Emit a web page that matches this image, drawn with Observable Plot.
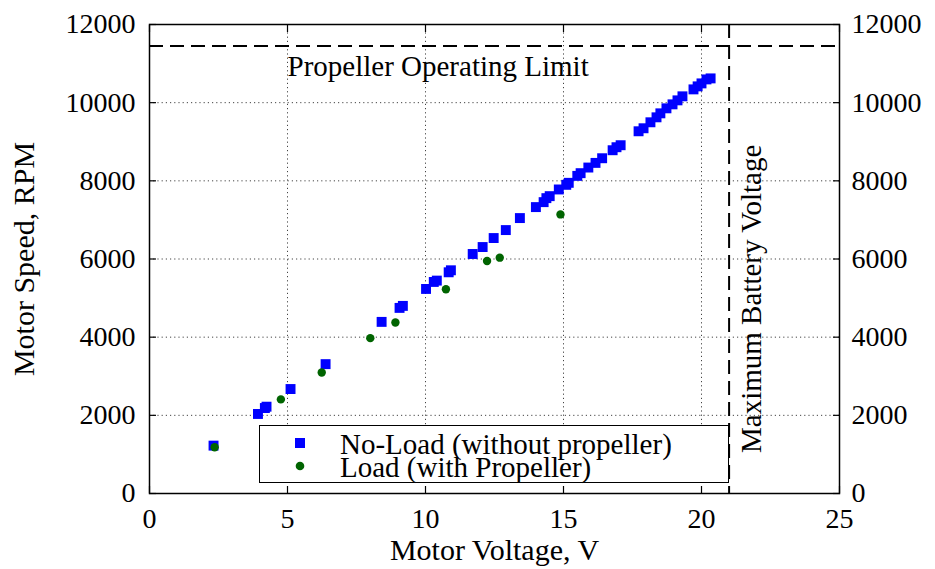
<!DOCTYPE html>
<html>
<head>
<meta charset="utf-8">
<script src="https://cdn.jsdelivr.net/npm/d3@7"></script>
<script src="https://cdn.jsdelivr.net/npm/@observablehq/plot@0.6"></script>
<style>
  body { margin: 0; background: #fff; }
  #wrap { position: relative; width: 935px; height: 569px; font-family: "Liberation Serif", "Times New Roman", serif; }
  #legend { position: absolute; left: 259px; top: 425px; width: 468px; height: 56px; border: 1.5px solid #000; background: #fff; }
  #legend .row { position: absolute; left: 0; width: 100%; height: 23px; font-size: 29px; white-space: nowrap; }
  #legend svg { position: absolute; left: 32px; top: 2px; }
  #legend span { position: absolute; left: 80px; top: 0; display: block; height: 23px; line-height: 23px; }
</style>
</head>
<body>
<div id="wrap"></div>
<script>
// No-Load (without propeller): voltage (V), speed (RPM)
const noLoadV = [2.32, 3.93, 4.18, 4.24, 5.11, 6.38, 8.41, 9.06, 9.18, 10.02, 10.3, 10.41, 10.84, 10.92, 11.71, 12.07, 12.47, 12.91, 13.42, 14.0, 14.28, 14.38, 14.5, 14.83, 15.1, 15.19, 15.5, 15.62, 15.9, 16.16, 16.4, 16.78, 16.92, 17.07, 17.72, 17.9, 18.15, 18.37, 18.51, 18.73, 18.95, 19.13, 19.31, 19.71, 19.86, 20.0, 20.18, 20.33];
const noLoadRPM = [1225, 2035, 2187, 2221, 2673, 3310, 4391, 4749, 4800, 5234, 5413, 5447, 5660, 5711, 6128, 6306, 6536, 6740, 7047, 7328, 7455, 7557, 7608, 7779, 7898, 7949, 8127, 8196, 8340, 8459, 8578, 8783, 8860, 8911, 9268, 9345, 9498, 9625, 9727, 9855, 9957, 10059, 10162, 10340, 10417, 10493, 10595, 10621];
// Load (with propeller)
const loadV = [2.36, 4.76, 6.24, 8.0, 8.91, 10.74, 12.23, 12.69, 14.89];
const loadRPM = [1183, 2408, 3097, 3975, 4374, 5226, 5949, 6034, 7141];
// Limits
const rpmLimit = [11450];
const voltLimit = [21];
const rpmLimitLabel = ["Propeller Operating Limit"];
const voltLimitLabel = ["Maximum Battery Voltage"];
// Ticks
const xTicks = [0, 5, 10, 15, 20, 25];
const yTicks = [0, 2000, 4000, 6000, 8000, 10000, 12000];
const legendLabels = ["No-Load (without propeller)", "Load (with Propeller)"];
const seriesColors = ["#0000ff", "#006400"];

const noLoad = noLoadV.map((v, i) => ({v, rpm: noLoadRPM[i]}));
const load = loadV.map((v, i) => ({v, rpm: loadRPM[i]}));
const fmt = d => String(d);

const chart = Plot.plot({
  width: 935,
  height: 569,
  marginLeft: 149,
  marginRight: 96,
  marginTop: 24,
  marginBottom: 76,
  style: {fontFamily: "Liberation Serif, Times New Roman, serif", fontSize: "28px", color: "#000", background: "#fff"},
  x: {domain: [0, 25], ticks: xTicks},
  y: {domain: [0, 12000], ticks: yTicks},
  marks: [
    Plot.gridX(xTicks.slice(1, -1), {stroke: "#444", strokeOpacity: 1, strokeDasharray: "1.2,3"}),
    Plot.gridY(yTicks.slice(1, -1), {stroke: "#444", strokeOpacity: 1, strokeDasharray: "1.2,3"}),
    Plot.ruleY(rpmLimit, {stroke: "#000", strokeWidth: 2, strokeDasharray: "14,7"}),
    Plot.ruleX(voltLimit, {stroke: "#000", strokeWidth: 2, strokeDasharray: "14,7"}),
    Plot.text(rpmLimit, {x: () => 5, y: d => d, text: (d, i) => rpmLimitLabel[i], textAnchor: "start", dy: 21, fontSize: 29}),
    Plot.text(voltLimit, {x: d => d, y: () => 4980, text: (d, i) => voltLimitLabel[i], rotate: -90, dx: 23, fontSize: 29}),
    Plot.dot(noLoad, {x: "v", y: "rpm", symbol: "square", r: 5.6, fill: seriesColors[0], stroke: "none"}),
    Plot.dot(load, {x: "v", y: "rpm", symbol: "circle", r: 4.2, fill: seriesColors[1], stroke: "none"}),
    Plot.frame({stroke: "#000", strokeWidth: 1.5}),
    Plot.axisX({anchor: "bottom", ticks: xTicks, tickFormat: fmt, tickSize: 0, tickPadding: 15, label: "Motor Voltage, V", labelAnchor: "center", labelArrow: "none", labelOffset: 66, fontSize: 28}),
    Plot.axisX({anchor: "bottom", ticks: xTicks, tickSize: -7, tickFormat: () => "", label: null, strokeWidth: 1.2}),
    Plot.axisX({anchor: "top", ticks: xTicks, tickSize: -7, tickFormat: () => "", label: null, strokeWidth: 1.2}),
    Plot.axisY({anchor: "left", ticks: yTicks, tickFormat: fmt, tickSize: 0, tickPadding: 14, label: "Motor Speed, RPM", labelAnchor: "center", labelArrow: "none", labelOffset: 137, fontSize: 28}),
    Plot.axisY({anchor: "left", ticks: yTicks, tickSize: -7, tickFormat: () => "", label: null, strokeWidth: 1.2}),
    Plot.axisY({anchor: "right", ticks: yTicks, tickFormat: fmt, tickSize: 0, tickPadding: 12, label: null, fontSize: 28}),
    Plot.axisY({anchor: "right", ticks: yTicks, tickSize: -7, tickFormat: () => "", label: null, strokeWidth: 1.2})
  ]
});

// Enlarge the axis titles slightly (they render with the axis font otherwise)
const wrap = document.getElementById("wrap");
wrap.appendChild(chart);
chart.querySelectorAll("g[aria-label='x-axis label'] text, g[aria-label='y-axis label'] text").forEach(t => t.setAttribute("font-size", "30"));

// Legend
const legend = document.createElement("div");
legend.id = "legend";
legendLabels.forEach((lab, i) => {
  const row = document.createElement("div");
  row.className = "row";
  row.style.top = (i === 0 ? 7 : 30) + "px";
  const sym = i === 0
    ? `<svg width="16" height="16"><rect x="3" y="3" width="10" height="10" fill="${seriesColors[0]}"/></svg>`
    : `<svg width="16" height="16"><circle cx="8" cy="8" r="4.3" fill="${seriesColors[1]}"/></svg>`;
  row.innerHTML = sym + `<span>${lab}</span>`;
  legend.appendChild(row);
});
wrap.appendChild(legend);
</script>
</body>
</html>
